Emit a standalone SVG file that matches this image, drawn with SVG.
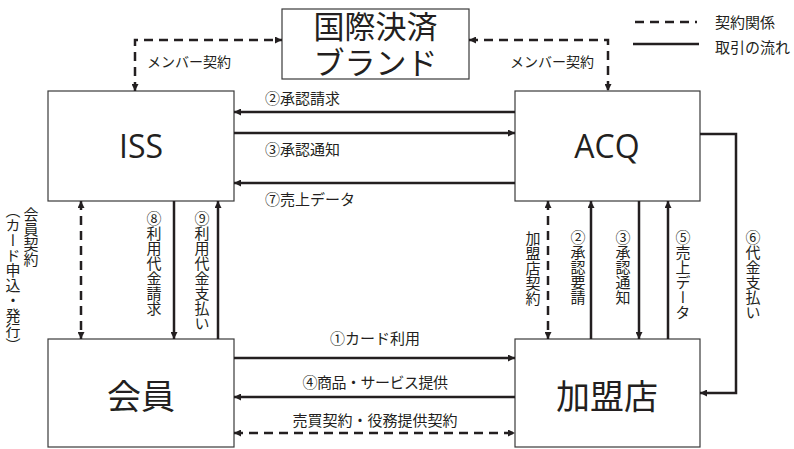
<svg xmlns="http://www.w3.org/2000/svg" width="794" height="449" viewBox="0 0 794 449">
<defs>
<marker id="ah" viewBox="0 0 10 10" refX="10" refY="5" markerWidth="9" markerHeight="7" markerUnits="userSpaceOnUse" orient="auto-start-reverse">
<path d="M0,0 L10,5 L0,10 z" fill="#231f20" stroke="none"/>
</marker>
<style>
.box{fill:#fff;stroke:#3a3a3a;stroke-width:1.2}
.ln{fill:none;stroke:#231f20;stroke-width:2.5}
.ds{fill:none;stroke:#231f20;stroke-width:2.5;stroke-dasharray:9 6}
.t{font-family:"Noto Sans CJK JP","Noto Sans",sans-serif;fill:#231f20;font-size:15px}
.v{writing-mode:vertical-rl}
.big{font-family:"Noto Sans CJK JP","Noto Sans",sans-serif;fill:#231f20;font-size:31px;text-anchor:middle}
.lat{font-family:"Open Sans","Noto Sans",sans-serif;fill:#231f20;font-size:32px;text-anchor:middle}
.m{text-anchor:middle}
</style>
</defs>
<rect width="794" height="449" fill="#fff"/>

<g id="brand">
<rect class="box" x="282" y="9" width="187" height="70"/>
<text class="big"><tspan x="375.5" y="38">国際決済</tspan><tspan x="375.5" y="74">ブランド</tspan></text>
</g>
<g id="iss">
<rect class="box" x="48" y="91" width="186" height="110"/>
<text class="lat" x="141" y="158">ISS</text>
</g>
<g id="acq">
<rect class="box" x="515" y="91" width="185" height="110"/>
<text class="lat" x="607" y="158">ACQ</text>
</g>
<g id="member">
<rect class="box" x="48" y="339" width="186" height="108"/>
<text class="big" x="141" y="409" style="font-size:34px">会員</text>
</g>
<g id="merchant">
<rect class="box" x="515" y="339" width="185" height="108"/>
<text class="big" x="607" y="409" style="font-size:34px">加盟店</text>
</g>

<g id="legend">
<line class="ds" x1="635" y1="22" x2="697" y2="22"/>
<text class="t" x="715" y="28">契約関係</text>
<line class="ln" x1="633" y1="44" x2="699" y2="44"/>
<text class="t" x="715" y="53">取引の流れ</text>
</g>

<g id="connectors">
<path class="ds" d="M135,91 V40 H282" marker-start="url(#ah)" marker-end="url(#ah)"/>
<path class="ds" d="M469,40 H608 V91" marker-start="url(#ah)" marker-end="url(#ah)"/>
<path class="ln" d="M515,112 H234" marker-end="url(#ah)"/>
<path class="ln" d="M234,133 H515" marker-end="url(#ah)"/>
<path class="ln" d="M515,183 H234" marker-end="url(#ah)"/>
<path class="ln" d="M700,134 H736 V393 H700" marker-end="url(#ah)"/>
<path class="ds" d="M81,201 V339" marker-start="url(#ah)" marker-end="url(#ah)"/>
<path class="ln" d="M174,201 V339" marker-end="url(#ah)"/>
<path class="ln" d="M218,339 V201" marker-end="url(#ah)"/>
<path class="ds" d="M548,201 V339" marker-start="url(#ah)" marker-end="url(#ah)"/>
<path class="ln" d="M591,339 V201" marker-end="url(#ah)"/>
<path class="ln" d="M639,201 V339" marker-end="url(#ah)"/>
<path class="ln" d="M668,339 V201" marker-end="url(#ah)"/>
<path class="ln" d="M234,358 H515" marker-end="url(#ah)"/>
<path class="ln" d="M515,397 H234" marker-end="url(#ah)"/>
<path class="ds" d="M234,433 H515" marker-start="url(#ah)" marker-end="url(#ah)"/>
</g>

<g id="labels">
<text class="t" x="147" y="67" style="font-size:14px">メンバー契約</text>
<text class="t" x="510" y="67" style="font-size:14px">メンバー契約</text>
<text class="t" x="265" y="104">②承認請求</text>
<text class="t" x="265" y="155">③承認通知</text>
<text class="t" x="265" y="205">⑦売上データ</text>
<text class="t m" x="375" y="344">①カード利用</text>
<text class="t m" x="375" y="388" style="letter-spacing:-0.5px">④商品・サービス提供</text>
<text class="t m" x="375" y="426">売買契約・役務提供契約</text>
<text class="t v" x="31" y="207">会員契約</text>
<text class="t v" x="13" y="203">（カード申込・発行）</text>
<text class="t v" x="154" y="211">⑧利用代金請求</text>
<text class="t v" x="202" y="211">⑨利用代金支払い</text>
<text class="t v" x="533" y="231">加盟店契約</text>
<text class="t v" x="578" y="230">②承認要請</text>
<text class="t v" x="623" y="230">③承認通知</text>
<text class="t v" x="683" y="230">⑤売上データ</text>
<text class="t v" x="753" y="230">⑥代金支払い</text>
</g>
</svg>
